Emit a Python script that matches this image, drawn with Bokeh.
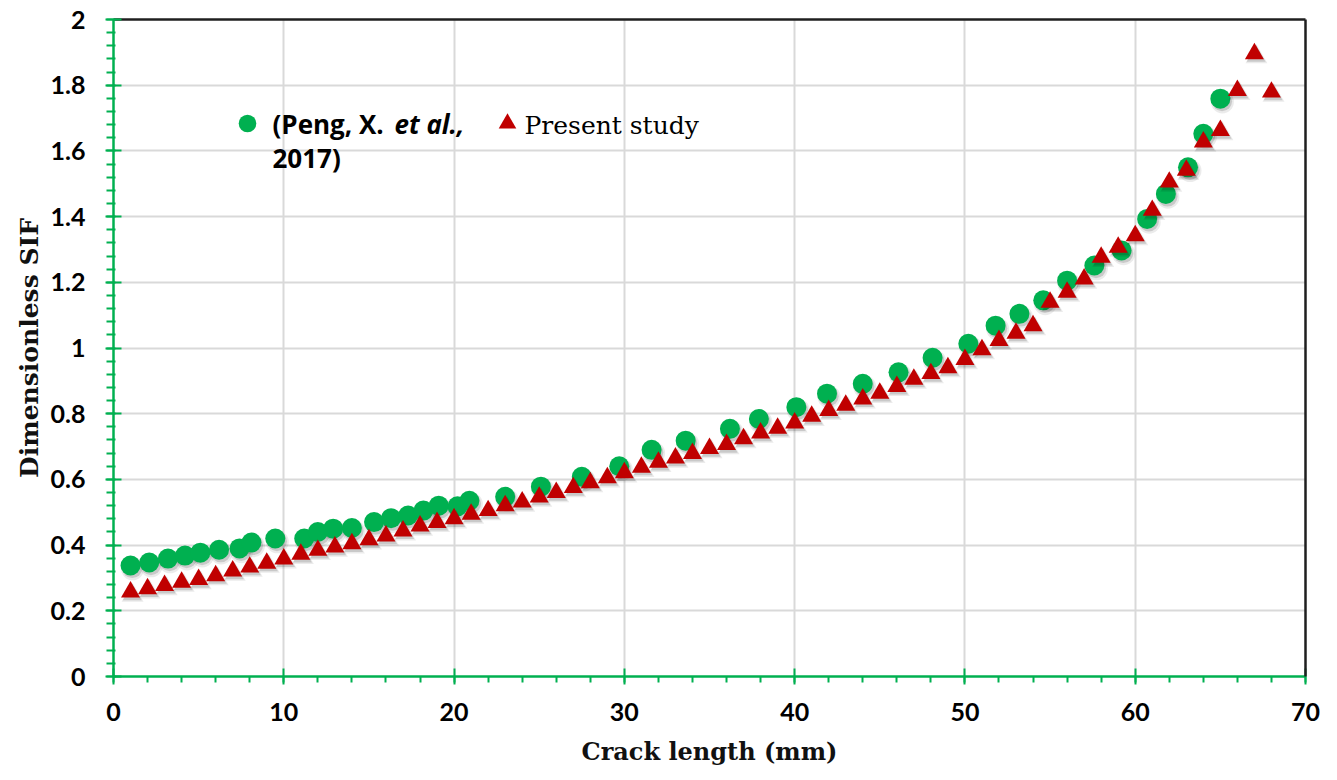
from bokeh.plotting import figure
from bokeh.models import (Range1d, FixedTicker, NumeralTickFormatter, LinearAxis,
                          Label, Legend, LegendItem, ColumnDataSource)
from bokeh.transform import dodge
from bokeh.embed import file_html
from bokeh.resources import INLINE
import numpy as np

# ---- data ----
peng_x = [1.0, 2.1, 3.2, 4.2, 5.1, 6.2, 7.4, 8.1, 9.5, 11.2,
          12.0, 12.9, 14.0, 15.3, 16.3, 17.3, 18.2, 19.1, 20.2, 20.9,
          23.0, 25.1, 27.5, 29.7, 31.6, 33.6, 36.2, 37.9, 40.1, 41.9,
          44.0, 46.1, 48.1, 50.2, 51.8, 53.2, 54.6, 56.0, 57.6, 59.2,
          60.7, 61.8, 63.1, 64.0, 65.0]
peng_y = [0.338, 0.347, 0.359, 0.368, 0.377, 0.386, 0.39, 0.408, 0.42, 0.42,
          0.44, 0.45, 0.452, 0.47, 0.482, 0.49, 0.505, 0.52, 0.518, 0.535,
          0.547, 0.578, 0.608, 0.64, 0.69, 0.718, 0.754, 0.784, 0.82, 0.861,
          0.891, 0.926, 0.97, 1.013, 1.068, 1.104, 1.145, 1.205, 1.251, 1.297,
          1.393, 1.469, 1.55, 1.652, 1.759]

present_x = list(range(1, 69))
present_y = [0.257, 0.267, 0.277, 0.287, 0.295, 0.307, 0.321, 0.333, 0.345, 0.358,
             0.372, 0.384, 0.394, 0.404, 0.416, 0.428, 0.443, 0.458, 0.469, 0.48,
             0.494, 0.505, 0.52, 0.531, 0.546, 0.56, 0.575, 0.59, 0.605, 0.62,
             0.637, 0.652, 0.665, 0.679, 0.694, 0.706, 0.724, 0.741, 0.756, 0.772,
             0.792, 0.81, 0.826, 0.845, 0.862, 0.883, 0.905, 0.922, 0.94, 0.965,
             0.995, 1.023, 1.045, 1.068, 1.139, 1.17, 1.21, 1.276, 1.307, 1.342,
             1.419, 1.505, 1.541, 1.627, 1.662, 1.784, 1.896, 1.779]

x_ticks = [0, 10, 20, 30, 40, 50, 60, 70]
y_ticks = [0, 0.2, 0.4, 0.6, 0.8, 1.0, 1.2, 1.4, 1.6, 1.8, 2.0]
x_label = "Crack length (mm)"
y_label = "Dimensionless SIF"
legend_peng = ["(Peng, X. ", "et al.,", "2017)"]
legend_present = "Present study"

GREEN = "#00B050"
RED = "#C00000"
GRID = "#D9D9D9"
TICK_FONT = "Lato"
LEG_FONT = "Open Sans"
SERIF = "DejaVu Serif"

x_minor = list(np.arange(x_ticks[0], x_ticks[-1] + 1e-9, 2.0))
y_minor = list(np.round(np.arange(y_ticks[0], y_ticks[-1] + 1e-9, 0.04), 3))

p = figure(width=1337, height=780, x_range=Range1d(0, 70), y_range=Range1d(0, 2),
           output_backend="svg", toolbar_location=None,
           min_border_left=113, min_border_right=32, min_border_top=19,
           min_border_bottom=104)
p.outline_line_color = None
p.background_fill_color = "white"
p.border_fill_color = "white"

# grid
p.xgrid.ticker = FixedTicker(ticks=x_ticks)
p.ygrid.ticker = FixedTicker(ticks=y_ticks)
for g in (p.xgrid, p.ygrid):
    g.grid_line_color = GRID
    g.grid_line_width = 2

# axes
p.xaxis.ticker = FixedTicker(ticks=x_ticks, minor_ticks=x_minor)
p.yaxis.ticker = FixedTicker(ticks=y_ticks, minor_ticks=y_minor)
p.yaxis.formatter = NumeralTickFormatter(format="0.[0]")
for ax in (p.xaxis, p.yaxis):
    ax.axis_line_color = GREEN
    ax.axis_line_width = 2.5
    ax.major_tick_line_color = GREEN
    ax.major_tick_line_width = 2
    ax.major_tick_in = 8
    ax.major_tick_out = 8
    ax.minor_tick_line_color = GREEN
    ax.minor_tick_line_width = 2
    ax.minor_tick_in = 0
    ax.minor_tick_out = 6
    ax.major_label_text_font = TICK_FONT
    ax.major_label_text_font_style = "bold"
    ax.major_label_text_font_size = "25px"
    ax.major_label_text_color = "black"
    ax.axis_label_text_font = SERIF
    ax.axis_label_text_font_style = "bold"
    ax.axis_label_text_font_size = "24px"
    ax.axis_label_text_color = "#111111"
p.yaxis.minor_tick_in = 2
p.yaxis.minor_tick_out = 7
p.yaxis.axis_label_text_font_size = "25px"
p.xaxis.axis_label = x_label
p.yaxis.axis_label = y_label
p.xaxis.major_label_standoff = 18
p.yaxis.major_label_standoff = 20
p.xaxis.axis_label_standoff = 13
p.yaxis.axis_label_standoff = 4

# black frame on top and right
for loc in ("right", "above"):
    fr = LinearAxis(ticker=FixedTicker(ticks=[]), axis_line_color="#1f1f1f",
                    axis_line_width=2.5, major_tick_line_color=None,
                    minor_tick_line_color=None, major_label_text_font_size="0px")
    p.add_layout(fr, loc)

src_peng = ColumnDataSource(dict(x=peng_x, y=peng_y))
src_pres = ColumnDataSource(dict(x=present_x, y=present_y))

# soft drop shadows + markers
for src, mk, sz in ((src_peng, "circle", 20), (src_pres, "triangle", 19)):
    p.scatter(x=dodge("x", 0.12, range=p.x_range), y=dodge("y", -0.01, range=p.y_range),
              source=src, marker=mk, size=sz + 3, fill_color="black", fill_alpha=0.08,
              line_color=None)
    p.scatter(x=dodge("x", 0.1, range=p.x_range), y=dodge("y", -0.008, range=p.y_range),
              source=src, marker=mk, size=sz, fill_color="black", fill_alpha=0.14,
              line_color=None)
    if mk == "circle":
        r_peng = p.scatter(x="x", y="y", source=src, marker="circle", size=sz,
                           fill_color=GREEN, line_color=None)
    else:
        r_pres = p.scatter(x="x", y="y", source=src, marker="triangle", size=sz,
                           fill_color=RED, line_color=None)

# legend glyphs
def make_legend(rend, loc):
    return Legend(items=[LegendItem(label=" ", renderers=[rend])], location=loc,
                  orientation="horizontal", glyph_width=44, glyph_height=44,
                  padding=0, margin=0, spacing=0, label_standoff=0, label_width=0,
                  label_height=0, label_text_font_size="1px",
                  border_line_color=None, background_fill_alpha=0)

p.add_layout(make_legend(r_peng, (112, 531)))
p.add_layout(make_legend(r_pres, (372, 531)))

# legend texts
lab_kw = dict(x_units="screen", y_units="screen", text_baseline="alphabetic",
              text_color="black")
p.add_layout(Label(x=159, y=553, text=legend_peng[0], text_font=LEG_FONT,
                   text_font_style="bold", text_font_size="26px", **lab_kw))
p.add_layout(Label(x=281, y=553, text=legend_peng[1], text_font=LEG_FONT,
                   text_font_style="bold italic", text_font_size="26px", **lab_kw))
p.add_layout(Label(x=159, y=519, text=legend_peng[2], text_font=LEG_FONT,
                   text_font_style="bold", text_font_size="26px", **lab_kw))
p.add_layout(Label(x=411, y=551, text=legend_present, text_font=SERIF,
                   text_font_size="25px", **lab_kw))

open("out.html", "w").write(file_html(p, INLINE))
